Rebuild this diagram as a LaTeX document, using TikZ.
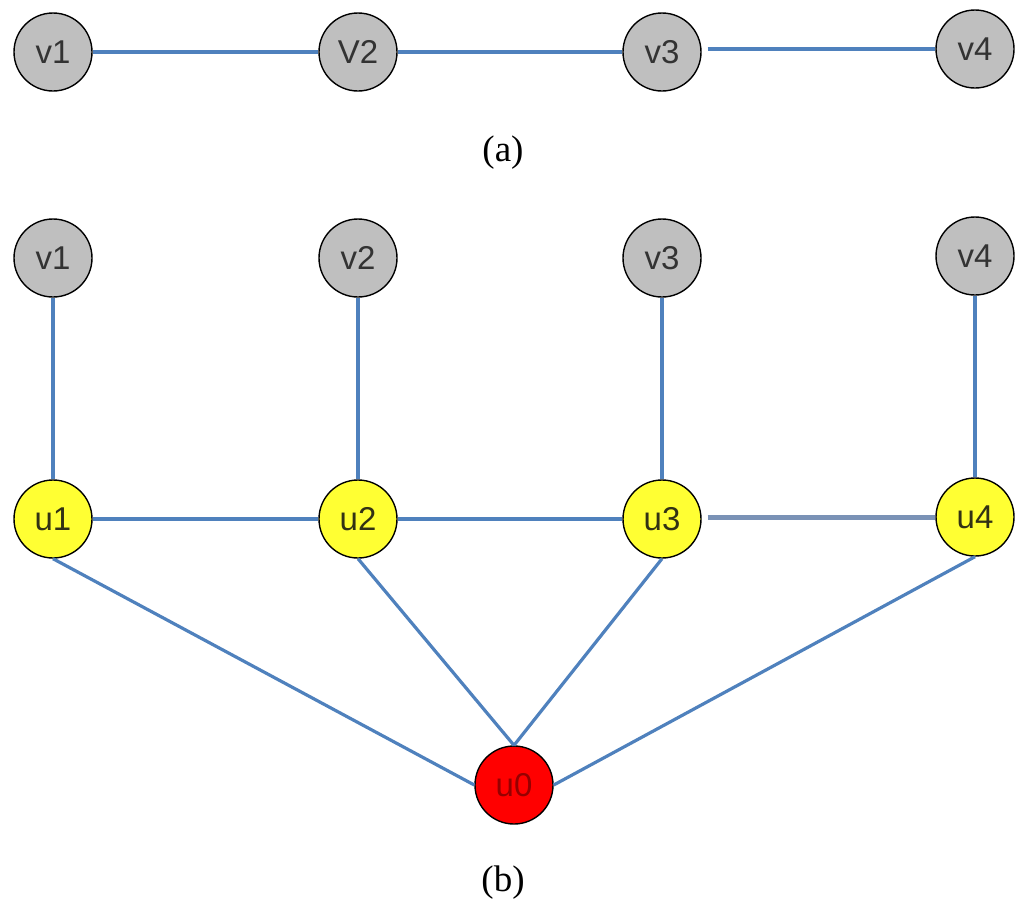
\documentclass[tikz,border=0pt]{standalone}
\usepackage{fontspec}
\setmainfont{Liberation Serif}
\newfontfamily\nodefont{Liberation Sans}
\begin{document}
\begin{tikzpicture}[x=1pt,y=-1pt,
  vert/.style={circle,draw=black,line width=1.4pt,minimum size=78pt,inner sep=0pt,
    font=\nodefont\fontsize{33}{36}\selectfont,text=black!80},
  gnode/.style={vert,fill=black!25},
  ynode/.style={vert,fill={rgb,255:red,255;green,255;blue,51},text={rgb,255:red,50;green,50;blue,20}},
  rnode/.style={vert,fill={rgb,255:red,255;green,0;blue,0},text={rgb,255:red,150;green,0;blue,0}},
  edge/.style={draw={rgb,255:red,79;green,129;blue,189},line width=3.2pt},
  grayedge/.style={draw={rgb,255:red,122;green,146;blue,182},line width=5pt},
  caption/.style={font=\fontsize{37}{40}\selectfont,inner sep=0pt}]
\useasboundingbox (0,0) rectangle (1024,908);
% (a)
\node[gnode] (a1) at (53,52) {v1};
\node[gnode] (a2) at (358,52) {V2};
\node[gnode] (a3) at (662,52) {v3};
\node[gnode] (a4) at (975,49) {v4};
\node[caption] (la) at (503,153) {(a)};
\draw[edge] (a1.east) -- (a2.west);
\draw[edge] (a2.east) -- (a3.west);
\draw[edge] ([xshift=6pt]a3.east |- a4.west) -- (a4.west);
% (b)
\node[gnode] (v1) at (53,258) {v1};
\node[gnode] (v2) at (358,258) {v2};
\node[gnode] (v3) at (662,258) {v3};
\node[gnode] (v4) at (975,256) {v4};
\node[ynode] (u1) at (53,519) {u1};
\node[ynode] (u2) at (358,519) {u2};
\node[ynode] (u3) at (662,519) {u3};
\node[ynode] (u4) at (975,517) {u4};
\node[rnode] (u0) at (514,785) {u0};
\node[caption] (lb) at (503,883) {(b)};
\draw[edge] (v1.south) -- (u1.north);
\draw[edge] (v2.south) -- (u2.north);
\draw[edge] (v3.south) -- (u3.north);
\draw[edge] (v4.south) -- (u4.north);
\draw[edge] (u1.east) -- (u2.west);
\draw[edge] (u2.east) -- (u3.west);
\draw[grayedge] ([xshift=6pt]u3.east |- u4.west) -- (u4.west);
\draw[edge] (u1.south) -- (u0.west);
\draw[edge] (u2.south) -- (u0.north);
\draw[edge] (u3.south) -- (u0.north);
\draw[edge] (u4.south) -- (u0.east);
\end{tikzpicture}
\end{document}
